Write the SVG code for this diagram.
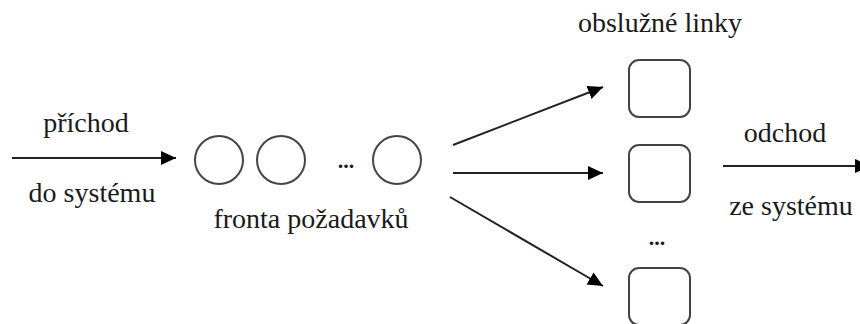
<svg xmlns="http://www.w3.org/2000/svg" width="860" height="324" viewBox="0 0 860 324" font-family="'Liberation Serif', 'Times New Roman', serif">
<defs>
<marker id="ah" markerUnits="userSpaceOnUse" markerWidth="16" markerHeight="14" refX="15" refY="7" orient="auto">
<path d="M0,0 L15,7 L0,14 Z" fill="#000"/>
</marker>
</defs>
<rect width="860" height="324" fill="#fff"/>
<g id="connectors" stroke="#222" stroke-width="2" fill="none">
<line marker-end="url(#ah)" x1="12" y1="158" x2="176" y2="158"/>
<line marker-end="url(#ah)" x1="453" y1="145" x2="603" y2="87"/>
<line marker-end="url(#ah)" x1="453" y1="173" x2="603" y2="173"/>
<line marker-end="url(#ah)" x1="450" y1="197" x2="603" y2="286"/>
<line marker-end="url(#ah)" x1="723" y1="166" x2="870" y2="166"/>
</g>
<g id="labels-in">
<text x="86" y="132" text-anchor="middle" font-family="Times New Roman" font-size="28" fill="#1a1a1a">příchod</text>
<text x="92" y="202" text-anchor="middle" font-family="Times New Roman" font-size="28" fill="#1a1a1a">do systému</text>
</g>
<g id="queue">
<circle cx="219" cy="160" r="24" fill="#fff" stroke="#444" stroke-width="2"/>
<circle cx="281" cy="160" r="24" fill="#fff" stroke="#444" stroke-width="2"/>
<text x="346" y="168" text-anchor="middle" font-family="Times New Roman" font-size="22" font-weight="bold" fill="#1a1a1a">...</text>
<circle cx="397" cy="160" r="24" fill="#fff" stroke="#444" stroke-width="2"/>
<text x="311" y="228" text-anchor="middle" font-family="Times New Roman" font-size="28" fill="#1a1a1a">fronta požadavků</text>
</g>
<g id="servers">
<text x="660" y="32" text-anchor="middle" font-family="Times New Roman" font-size="28" fill="#1a1a1a">obslužné linky</text>
<rect x="629" y="60" width="61" height="57" rx="10" fill="#fff" stroke="#444" stroke-width="2"/>
<rect x="629" y="145" width="61" height="57" rx="10" fill="#fff" stroke="#444" stroke-width="2"/>
<text x="657" y="245" text-anchor="middle" font-family="Times New Roman" font-size="22" font-weight="bold" fill="#1a1a1a">...</text>
<rect x="629" y="268" width="61" height="57" rx="10" fill="#fff" stroke="#444" stroke-width="2"/>
</g>
<g id="labels-out">
<text x="785" y="142" text-anchor="middle" font-family="Times New Roman" font-size="28" fill="#1a1a1a">odchod</text>
<text x="791" y="215" text-anchor="middle" font-family="Times New Roman" font-size="28" fill="#1a1a1a">ze systému</text>
</g>
</svg>
